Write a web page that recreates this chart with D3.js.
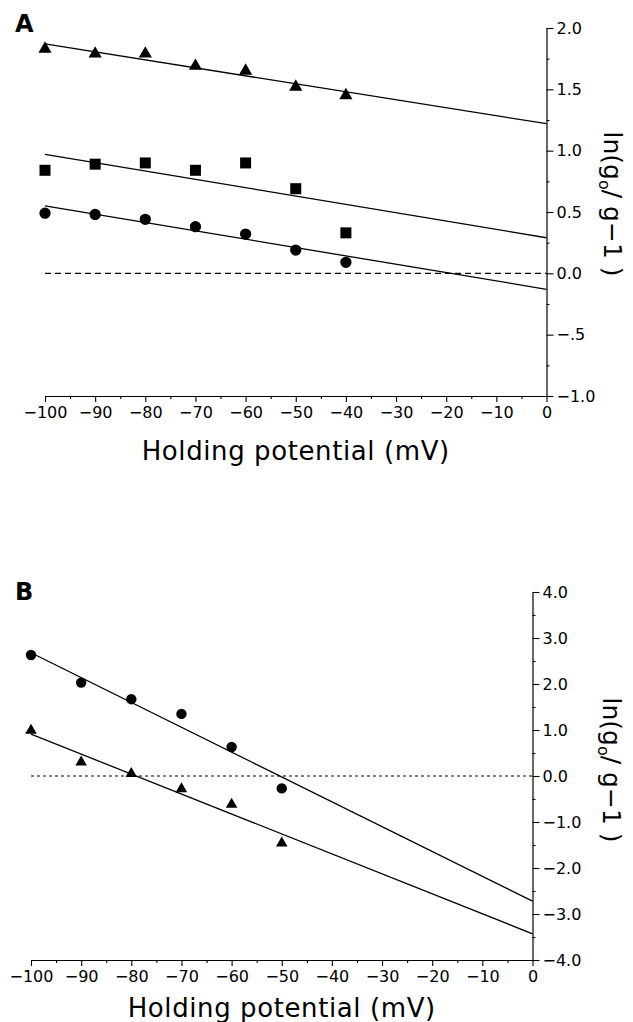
<!DOCTYPE html>
<html>
<head>
<meta charset="utf-8">
<script src="https://cdn.jsdelivr.net/npm/d3@7"></script>
<style>
  html, body { margin: 0; padding: 0; background: #fff; }
  svg { display: block; }
  text { font-family: "DejaVu Sans", "Liberation Sans", sans-serif; fill: #000; }
</style>
</head>
<body>
<svg id="fig" width="633" height="1022"></svg>
<script>
// Holding potentials (mV) shared by both panels
const xTickValues = [-100, -90, -80, -70, -60, -50, -40, -30, -20, -10, 0];
const xTickLabels = ["\u2212100", "\u221290", "\u221280", "\u221270", "\u221260", "\u221250", "\u221240", "\u221230", "\u221220", "\u221210", "0"];
const xMinorTicks = [-95, -85, -75, -65, -55, -45, -35, -25, -15, -5];
const fitX = [-100, 0];

// Panel A
const potentialsA = [-100, -90, -80, -70, -60, -50, -40];
const trianglesA = [1.83, 1.79, 1.79, 1.69, 1.65, 1.52, 1.45];
const squaresA = [0.84, 0.89, 0.90, 0.84, 0.90, 0.69, 0.33];
const circlesA = [0.49, 0.48, 0.44, 0.38, 0.32, 0.19, 0.09];
const fitTrianglesA = [1.87, 1.22];
const fitSquaresA = [0.97, 0.29];
const fitCirclesA = [0.55, -0.13];
const yTickValuesA = [2.0, 1.5, 1.0, 0.5, 0.0, -0.5, -1.0];
const yTickLabelsA = ["2.0", "1.5", "1.0", "0.5", "0.0", "\u2212.5", "\u22121.0"];
const yMinorTicksA = [1.75, 1.25, 0.75, 0.25, -0.25, -0.75];

// Panel B
const potentialsB = [-100, -90, -80, -70, -60, -50];
const circlesB = [2.63, 2.03, 1.67, 1.35, 0.63, -0.27];
const trianglesB = [0.99, 0.30, 0.05, -0.28, -0.62, -1.46];
const fitCirclesB = [2.68, -2.72];
const fitTrianglesB = [0.91, -3.43];
const yTickValuesB = [4, 3, 2, 1, 0, -1, -2, -3, -4];
const yTickLabelsB = ["4.0", "3.0", "2.0", "1.0", "0.0", "\u22121.0", "\u22122.0", "\u22123.0", "\u22124.0"];
const yMinorTicksB = [3.5, 2.5, 1.5, 0.5, -0.5, -1.5, -2.5, -3.5];

const svg = d3.select("#fig");

function drawPanel(cfg) {
  const g = svg.append("g");
  const x = d3.scaleLinear().domain([-100, 0]).range(cfg.xRange);
  const y = d3.scaleLinear().domain(cfg.yDomain).range(cfg.yRange);

  // x axis: major and minor ticks pointing down
  g.append("g")
    .attr("transform", `translate(0,${cfg.yRange[0]})`)
    .call(d3.axisBottom(x).tickValues(xTickValues).tickSize(6).tickSizeOuter(0).tickPadding(5)
      .tickFormat((d, i) => xTickLabels[i]));
  g.append("g")
    .attr("transform", `translate(0,${cfg.yRange[0]})`)
    .call(d3.axisBottom(x).tickValues(xMinorTicks).tickSize(3).tickSizeOuter(0).tickFormat(""))
    .select(".domain").remove();

  // y axis on the right, ticks pointing right
  g.append("g")
    .attr("transform", `translate(${cfg.xRange[1]},0)`)
    .call(d3.axisRight(y).tickValues(cfg.yTicks).tickSize(7).tickSizeOuter(0).tickPadding(3)
      .tickFormat((d, i) => cfg.yLabels[i]));
  g.append("g")
    .attr("transform", `translate(${cfg.xRange[1]},0)`)
    .call(d3.axisRight(y).tickValues(cfg.yMinor).tickSize(3).tickSizeOuter(0).tickFormat(""))
    .select(".domain").remove();

  g.selectAll(".domain").attr("stroke", "#000").attr("stroke-width", 1.2);
  g.selectAll(".tick line").attr("stroke", "#000").attr("stroke-width", 1.1);
  g.selectAll(".tick text").attr("font-size", 16).attr("font-family", "DejaVu Sans, sans-serif").attr("fill", "#000");

  // zero reference line
  g.append("line")
    .attr("x1", x(-100)).attr("x2", x(0))
    .attr("y1", y(0)).attr("y2", y(0))
    .attr("stroke", "#000").attr("stroke-width", 1.1)
    .attr("stroke-dasharray", cfg.dash);

  // linear fits
  const line = d3.line().x(d => x(d[0])).y(d => y(d[1]));
  cfg.fits.forEach(f => {
    g.append("path")
      .attr("d", line(fitX.map((v, i) => [v, f[i]])))
      .attr("fill", "none").attr("stroke", "#000").attr("stroke-width", 1.3);
  });

  // data markers
  cfg.series.forEach(s => {
    g.selectAll(null).data(s.values).enter().append("path")
      .attr("transform", (d, i) => `translate(${x(s.xs[i])},${y(d)})`)
      .attr("d", d3.symbol().type(s.type).size(s.size))
      .attr("fill", "#000");
  });

  // axis title
  g.append("text")
    .attr("x", x(-50)).attr("y", cfg.titleY)
    .attr("text-anchor", "middle")
    .attr("font-size", 26)
    .attr("letter-spacing", 0.6)
    .text("Holding potential (mV)");

  // y axis label, rotated
  const yl = g.append("text")
    .attr("transform", `translate(${cfg.yLabelX},${cfg.yLabelY}) rotate(90)`)
    .attr("text-anchor", "middle")
    .attr("font-size", 25);
  yl.append("tspan").text("ln(g");
  yl.append("tspan").attr("font-size", 16).attr("dy", 5).text("o");
  yl.append("tspan").attr("dy", -5).text("/ g\u22121 )");

  // panel letter
  g.append("text")
    .attr("x", cfg.letterX).attr("y", cfg.letterY)
    .attr("font-size", 24).attr("font-weight", "bold")
    .text(cfg.letter);
}

drawPanel({
  letter: "A", letterX: 15, letterY: 32,
  xRange: [45, 546.5], yDomain: [-1, 2], yRange: [396, 28],
  yTicks: yTickValuesA, yLabels: yTickLabelsA, yMinor: yMinorTicksA,
  dash: "6,4",
  fits: [fitTrianglesA, fitSquaresA, fitCirclesA],
  series: [
    { xs: potentialsA, values: trianglesA, type: d3.symbolTriangle, size: 75 },
    { xs: potentialsA, values: squaresA, type: d3.symbolSquare, size: 121 },
    { xs: potentialsA, values: circlesA, type: d3.symbolCircle, size: 100 }
  ],
  titleY: 460, yLabelX: 604, yLabelY: 204
});

drawPanel({
  letter: "B", letterX: 15, letterY: 600,
  xRange: [31, 532.5], yDomain: [-4, 4], yRange: [960, 592],
  yTicks: yTickValuesB, yLabels: yTickLabelsB, yMinor: yMinorTicksB,
  dash: "3,3",
  fits: [fitCirclesB, fitTrianglesB],
  series: [
    { xs: potentialsB, values: circlesB, type: d3.symbolCircle, size: 85 },
    { xs: potentialsB, values: trianglesB, type: d3.symbolTriangle, size: 58 }
  ],
  titleY: 1017, yLabelX: 603, yLabelY: 770
});
</script>
</body>
</html>
